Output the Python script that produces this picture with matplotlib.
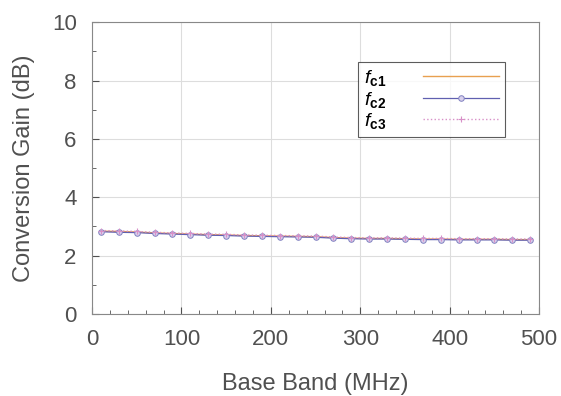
import matplotlib
matplotlib.use("Agg")
import matplotlib.pyplot as plt
from matplotlib.ticker import MultipleLocator

plt.rcParams["font.family"] = ["Liberation Sans", "DejaVu Sans"]
plt.rcParams["mathtext.fontset"] = "custom"
plt.rcParams["mathtext.it"] = "Liberation Sans:italic"
plt.rcParams["mathtext.bf"] = "Liberation Sans:bold"
plt.rcParams["mathtext.rm"] = "Liberation Sans"

freq_mhz = [10, 30, 50, 70, 90, 110, 130, 150, 170, 190, 210, 230, 250,
            270, 290, 310, 330, 350, 370, 390, 410, 430, 450, 470, 490]
gain_fc1 = [2.84, 2.83, 2.81, 2.78, 2.76, 2.74, 2.72, 2.71, 2.69, 2.68, 2.67, 2.66, 2.65,
            2.62, 2.60, 2.59, 2.59, 2.58, 2.57, 2.57, 2.56, 2.56, 2.56, 2.55, 2.55]
gain_fc2 = [2.82, 2.80, 2.79, 2.76, 2.74, 2.72, 2.70, 2.69, 2.67, 2.66, 2.65, 2.64, 2.63,
            2.60, 2.58, 2.57, 2.57, 2.56, 2.55, 2.55, 2.54, 2.54, 2.54, 2.53, 2.53]
gain_fc3 = [2.86, 2.85, 2.83, 2.80, 2.78, 2.76, 2.74, 2.73, 2.71, 2.70, 2.69, 2.68, 2.67,
            2.64, 2.62, 2.61, 2.61, 2.60, 2.59, 2.59, 2.58, 2.58, 2.58, 2.57, 2.57]

txt = "#505050"

fig = plt.figure(figsize=(5.61, 3.96), dpi=100)
ax = fig.add_axes([0.164, 0.207, 0.797, 0.737])

ax.plot(freq_mhz, gain_fc1, color="#E8A050", lw=1.0, label=r"$\mathbf{\mathit{f}}_{\mathbf{c1}}$")
ax.plot(freq_mhz, gain_fc2, color="#6060B0", lw=0.9, marker="o", ms=4,
        mfc="#D8D0EC", mec="#8080C0", mew=0.7, label=r"$\mathbf{\mathit{f}}_{\mathbf{c2}}$")
ax.plot(freq_mhz, gain_fc3, color="#D890C8", lw=1.0, ls=":", marker="+", ms=5,
        mew=0.8, label=r"$\mathbf{\mathit{f}}_{\mathbf{c3}}$")

ax.set_xlim(0, 500)
ax.set_ylim(0, 10)
ax.xaxis.set_major_locator(MultipleLocator(100))
ax.xaxis.set_minor_locator(MultipleLocator(20))
ax.yaxis.set_major_locator(MultipleLocator(2))
ax.yaxis.set_minor_locator(MultipleLocator(1))
ax.grid(True, which="major", color="#DDDDDD", lw=0.8)
ax.tick_params(which="major", direction="in", length=5, colors=txt, labelsize=16)
ax.tick_params(axis="x", which="major", pad=11)
ax.tick_params(axis="y", which="major", pad=11)
ax.tick_params(which="minor", direction="in", length=3, colors=txt)
for s in ax.spines.values():
    s.set_color("#888888")
    s.set_linewidth(0.8)

ax.set_xlabel("Base Band (MHz)", fontsize=17, color=txt, labelpad=16)
ax.set_ylabel("Conversion Gain (dB)", fontsize=17, color=txt, labelpad=12)

leg = ax.legend(loc="upper left", bbox_to_anchor=(0.595, 0.863), borderaxespad=0,
                fontsize=14, handlelength=3.9, frameon=True, fancybox=False,
                labelspacing=0.08, borderpad=0.3, handletextpad=1.9, markerfirst=False)
leg.get_frame().set_edgecolor("#333333")
leg.get_frame().set_linewidth(0.8)

fig.savefig("out.png", dpi=100)
